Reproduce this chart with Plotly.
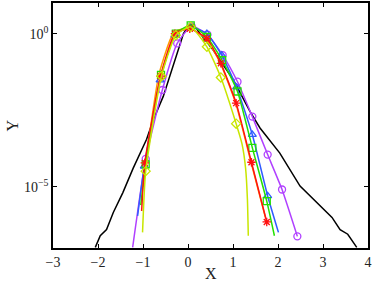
import plotly.graph_objects as go

# black reference curve (x, log10 y)
black_x = [-2.06, -1.95, -1.81, -1.66, -1.45, -1.22, -0.92, -0.77, -0.55, -0.33, -0.10, 0.04, 0.12, 0.27, 0.56, 1.01, 1.38, 1.60, 2.04, 2.49, 2.94, 3.20, 3.38, 3.55, 3.75]
black_ly = [-6.98, -6.60, -6.40, -5.84, -5.20, -4.40, -3.45, -2.81, -2.05, -1.08, 0.00, 0.32, 0.30, 0.00, -0.54, -1.52, -2.55, -3.08, -3.90, -4.98, -5.63, -6.00, -6.40, -6.55, -6.98]

# coloured curves: line points and marker points (x, log10 y)
yel_x = [-1.01, -0.94, -0.59, -0.27, 0.06, 0.42, 0.73, 1.07, 1.20, 1.28, 1.32, 1.34]
yel_ly = [-6.49, -4.49, -1.39, -0.05, 0.22, -0.43, -1.43, -2.94, -3.60, -4.40, -5.40, -6.60]
yel_mx = [-0.94, -0.59, -0.27, 0.06, 0.42, 0.73, 1.07]
yel_mly = [-4.49, -1.39, -0.05, 0.22, -0.43, -1.43, -2.94]

red_x = [-1.03, -0.96, -0.61, -0.29, 0.04, 0.42, 0.73, 1.07, 1.41, 1.75]
red_ly = [-5.79, -4.22, -1.39, 0.00, 0.16, -0.16, -0.97, -2.27, -4.20, -6.15]
red_mx = [-0.96, -0.61, -0.29, 0.04, 0.42, 0.73, 1.07, 1.41, 1.75]
red_mly = [-4.22, -1.39, 0.00, 0.16, -0.16, -0.97, -2.27, -4.20, -6.15]

blu_x = [-1.12, -0.97, -0.62, -0.29, 0.04, 0.42, 0.75, 1.08, 1.43, 1.77, 2.01]
blu_ly = [-5.95, -4.33, -1.52, -0.05, 0.22, 0.00, -0.70, -1.75, -3.30, -5.30, -6.49]
blu_mx = [-0.97, -0.62, -0.29, 0.04, 0.42, 0.75, 1.08, 1.43, 1.77]
blu_mly = [-4.33, -1.52, -0.05, 0.22, 0.00, -0.70, -1.75, -3.30, -5.30]

grn_x = [-1.05, -0.94, -0.60, -0.27, 0.06, 0.42, 0.76, 1.10, 1.43, 1.75, 1.92]
grn_ly = [-5.60, -4.27, -1.35, 0.00, 0.27, -0.11, -0.87, -1.89, -3.73, -5.47, -6.60]
grn_mx = [-0.94, -0.60, -0.27, 0.06, 0.42, 0.76, 1.10, 1.43, 1.75]
grn_mly = [-4.27, -1.35, 0.00, 0.27, -0.11, -0.87, -1.89, -3.73, -5.47]

mag_x = [-1.23, -0.94, -0.57, -0.24, 0.08, 0.43, 0.77, 1.10, 1.43, 1.77, 2.09, 2.43]
mag_ly = [-6.98, -4.09, -1.84, -0.32, 0.24, -0.03, -0.70, -1.57, -2.71, -3.95, -5.09, -6.62]
mag_mx = [-0.94, -0.57, -0.24, 0.08, 0.43, 0.77, 1.10, 1.43, 1.77, 2.09, 2.43]
mag_mly = [-4.09, -1.84, -0.32, 0.24, -0.03, -0.70, -1.57, -2.71, -3.95, -5.09, -6.62]

org_x = [-0.99, -0.93, -0.64, -0.31, 0.02, 0.40, 0.72, 1.06, 1.40, 1.72]
org_ly = [-5.00, -4.10, -1.30, 0.05, 0.18, -0.16, -0.97, -2.27, -4.20, -6.00]

y_tickvals = [1, 1e-5]
y_ticktext = ['10<sup>0</sup>', '10<sup>\u22125</sup>']
x_tickvals = [-3, -2, -1, 0, 1, 2, 3, 4]
x_ticktext = ['\u22123', '\u22122', '\u22121', '0', '1', '2', '3', '4']


def pw(ly):
	return [10 ** v for v in ly]


fig = go.Figure()

fig.add_trace(go.Scatter(x=black_x, y=pw(black_ly), mode='lines',
						line=dict(color='black', width=1.5)))

series = [
	(org_x, org_ly, None, None, '#ff9a00', None),
	(mag_x, mag_ly, mag_mx, mag_mly, '#b040ff', 'circle-open'),
	(blu_x, blu_ly, blu_mx, blu_mly, '#2f5bff', 'triangle-up-open'),
	(grn_x, grn_ly, grn_mx, grn_mly, '#22e000', 'square-open'),
	(red_x, red_ly, red_mx, red_mly, '#ff1010', 'asterisk-open'),
	(yel_x, yel_ly, yel_mx, yel_mly, '#c8e600', 'diamond-open'),
]

for lx, lly, mx, mly, col, sym in series:
	fig.add_trace(go.Scatter(x=lx, y=pw(lly), mode='lines',
							line=dict(color=col, width=1.5, shape='spline', smoothing=0.5)))
	if mx is not None:
		fig.add_trace(go.Scatter(x=mx, y=pw(mly), mode='markers',
								marker=dict(symbol=sym, size=7, color=col, line=dict(width=1.3, color=col))))

fig.update_xaxes(range=[-3, 4], tickvals=x_tickvals, ticktext=x_ticktext, automargin=False,
				showline=True, mirror='ticks', linecolor='black', linewidth=1.5,
				ticks='inside', ticklen=4, tickcolor='black', showgrid=False, zeroline=False)
fig.update_yaxes(type='log', range=[-7, 1], tickvals=y_tickvals, ticktext=y_ticktext, automargin=False,
				showline=True, mirror='ticks', linecolor='black', linewidth=1.5,
				ticks='inside', ticklen=4, tickcolor='black', showgrid=False, zeroline=False)

fig.update_layout(width=374, height=285,
				margin=dict(l=53, r=6, t=3, b=37),
				paper_bgcolor='white', plot_bgcolor='white',
				font=dict(family='Liberation Serif, Times New Roman, serif', size=14, color='#222222'),
				showlegend=False,
				annotations=[
					dict(text='X', xref='paper', yref='paper', x=0.5, y=0, yshift=-15, yanchor='top',
						showarrow=False, font=dict(size=16)),
					dict(text='Y', xref='paper', yref='paper', x=0, y=0.5, xshift=-41, xanchor='center',
						textangle=-90, showarrow=False, font=dict(size=16)),
				])

# drop the default page margin so the figure sits at the window corner
fig.write_html("out.html", config={'displayModeBar': False},
			post_script="document.body.style.margin='0px';")
